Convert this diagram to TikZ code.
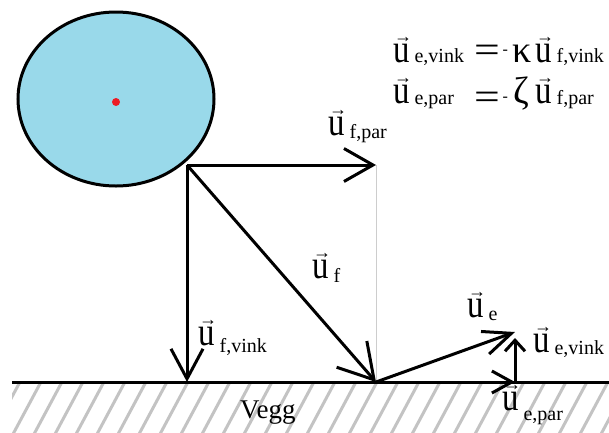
\documentclass[tikz,border=0pt]{standalone}
\usepackage{fontspec}
\usepackage{graphicx}
\setmainfont{Liberation Serif}
\usetikzlibrary{arrows.meta}
\definecolor{ball}{RGB}{153,217,234}
\definecolor{hatchgray}{RGB}{195,195,195}
\definecolor{guide}{RGB}{205,205,205}
\definecolor{dotred}{RGB}{237,28,36}
\newcommand{\uu}{\makebox[0pt][l]{\hspace{1pt}\raisebox{20pt}{\fontsize{18}{18}\selectfont →}}\scalebox{0.82}[1]{\fontsize{40}{40}\selectfont u}}
\newcommand{\vlab}[2][3pt]{\uu\hspace{5pt}{\fontsize{20}{20}\selectfont\raisebox{-#1}{#2}}}
\newcommand{\bx}[2]{\makebox[#1][c]{#2}}
\tikzset{
  vecline/.style={line width=3pt},
  lab/.style={inner sep=0pt, anchor=base west},
  hatchline/.style={line width=3pt, hatchgray},
  guideline/.style={line width=1pt, guide},
  ballstyle/.style={line width=3pt, fill=ball},
}
\begin{document}
\begin{tikzpicture}[x=1pt,y=-1pt]
\useasboundingbox (0,0) rectangle (609,432);
% wall hatching
\begin{scope}
\clip (12,384) rectangle (609,432);
\foreach \i in {0,...,32} \draw[hatchline] ({-30+21*\i},436) -- ++(30,-56);
\end{scope}
% ball
\draw[ballstyle] (116,99) ellipse [x radius=98pt, y radius=87pt];
\fill[dotred] (116,102) circle [radius=4pt];
% points
\coordinate (A) at (187,165);
\coordinate (B) at (376,165);
\coordinate (C) at (187,382);
\coordinate (D) at (376,382);
\coordinate (E) at (515,332);
\coordinate (F) at (515,382);
\coordinate (G) at (515,338);
\coordinate (W0) at (12,382);
\coordinate (W1) at (609,382);
% guide
\draw[guideline] (B) -- (D);
% wall line
\draw[line width=3pt] (W0) -- (W1);
% vectors
\draw[vecline, -{Straight Barb[length=29pt,width=33pt]}] (A) -- (B);
\draw[vecline, -{Straight Barb[length=30pt,width=32pt]}] (A) -- (C);
\draw[vecline, -{Straight Barb[length=34pt,width=40pt]}] (A) -- (D);
\draw[vecline, -{Straight Barb[length=28pt,width=24pt]}] (D) -- (E);
\draw[vecline, -{Straight Barb[length=20pt,width=22pt]}] (D) -- (F);
\draw[vecline, -{Straight Barb[length=11pt,width=20pt]}] (F) -- (G);
% labels
\node[lab] (lfpar) at (328,135) {\vlab{f,par}};
\node[lab] (lf) at (312,278) {\vlab[4pt]{f}};
\node[lab] (lfvink) at (198,345) {\vlab[7pt]{f,vink}};
\node[lab] (le) at (467,317) {\vlab{e}};
\node[lab] (levink) at (533,352) {\vlab[2pt]{e,vink}};
\node[lab] (lepar) at (502,410) {\vlab[10pt]{e,par}};
\node[lab] (vegg) at (240,418) {\fontsize{27}{27}\selectfont Vegg};
% equations
\node[lab] (eq1) at (393,62) {\fontsize{38}{38}\selectfont
  \makebox[82pt][l]{\vlab[0pt]{e,vink}}\bx{25pt}{\scalebox{1.2}[1]{=}}\bx{10pt}{\raisebox{8pt}{\fontsize{16}{16}\selectfont -}}\bx{23pt}{κ}\hspace{2pt}\vlab[0pt]{f,vink}};
\node[lab] (eq2) at (393,103) {\fontsize{38}{38}\selectfont
  \makebox[82pt][l]{\vlab[1pt]{e,par}}\bx{25pt}{\raisebox{-6pt}{\scalebox{1.2}[1]{=}}}\bx{10pt}{\raisebox{2pt}{\fontsize{16}{16}\selectfont -}}\bx{23pt}{ζ}\hspace{2pt}\vlab[1pt]{f,par}};
\end{tikzpicture}
\end{document}
